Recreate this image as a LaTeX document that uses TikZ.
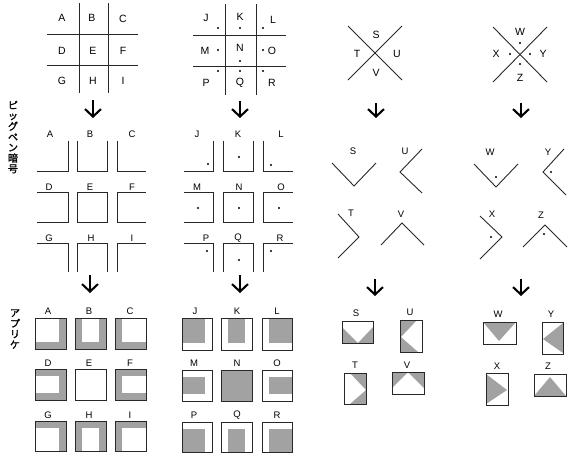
\documentclass[tikz,border=0pt]{standalone}
\usepackage{fontspec}
\setmainfont{Liberation Sans}
\newfontfamily\jpfont[FakeBold=1.8]{Noto Sans CJK JP}
\usetikzlibrary{arrows.meta}
\definecolor{fillg}{RGB}{162,162,162}
\definecolor{linec}{RGB}{40,40,40}
\tikzset{
  ln/.style={draw=linec, line width=0.9pt},
  bx/.style={draw=linec, line width=1pt},
  gf/.style={fill=fillg},
  big/.style={font=\fontsize{10.5}{12}\selectfont, inner sep=0pt},
  sm/.style={font=\fontsize{9.5}{11}\selectfont, inner sep=0pt},
  jp/.style={font=\jpfont\fontsize{10}{10.6}\selectfont, inner sep=0pt, align=center},
  dn/.style={line width=2.1pt, -{Straight Barb[length=7.5pt,width=16pt]}},
}
\newcommand{\pdot}[1]{\fill[black] #1 circle (1.2pt);}
\begin{document}
\begin{tikzpicture}[x=1pt,y=-1pt]
\useasboundingbox (0,0) rectangle (570,459);
% ---------- labels on the left
\node[jp] (pigpen) at (13,137) {ピ\\ッ\\グ\\ペ\\ン\\暗\\号};
\node[jp] (appli) at (15,329) {ア\\プ\\リ\\ケ};
% ---------- top row: grid A-I
\draw[ln] (79,3) -- (79,93);
\draw[ln] (108,3) -- (108,93);
\draw[ln] (47,34) -- (138,34);
\draw[ln] (47,65) -- (138,65);
\node[big] (gA) at (62,18) {A};
\node[big] (gB) at (92,18) {B};
\node[big] (gC) at (123,19) {C};
\node[big] (gD) at (62,51) {D};
\node[big] (gE) at (93,51) {E};
\node[big] (gF) at (123,51) {F};
\node[big] (gG) at (62,81) {G};
\node[big] (gH) at (93,81) {H};
\node[big] (gI) at (123,81) {I};
% ---------- top row: grid J-R
\draw[ln] (225,4) -- (225,95);
\draw[ln] (256,4) -- (256,95);
\draw[ln] (193,35) -- (286,35);
\draw[ln] (193,66) -- (286,66);
\node[big] (gJ) at (206,18) {J};
\node[big] (gK) at (240,17) {K};
\node[big] (gL) at (273,20) {L};
\node[big] (gM) at (205,51) {M};
\node[big] (gN) at (240,48) {N};
\node[big] (gO) at (272,51) {O};
\node[big] (gP) at (206,83) {P};
\node[big] (gQ) at (240,83) {Q};
\node[big] (gR) at (272,83) {R};
\pdot{(218,28)} \pdot{(240,28)} \pdot{(263,28)}
\pdot{(218,50)} \pdot{(240,61)} \pdot{(263,50)}
\pdot{(218,71)} \pdot{(240,71)} \pdot{(263,71)}
% ---------- top row: cross S-V
\draw[ln] (348,26) -- (402,80);
\draw[ln] (402,26) -- (348,80);
\node[big] (gS) at (376,35) {S};
\node[big] (gT) at (357,54) {T};
\node[big] (gU) at (397,54) {U};
\node[big] (gV) at (376,73) {V};
% ---------- top row: cross W-Z
\draw[ln] (493,27) -- (547,82);
\draw[ln] (547,27) -- (493,82);
\node[big] (gW) at (520,32) {W};
\node[big] (gX) at (496,54) {X};
\node[big] (gY) at (543,54) {Y};
\node[big] (gZ) at (520,78) {Z};
\pdot{(520,43)} \pdot{(510,54)} \pdot{(530,54)} \pdot{(520,64)}
% ---------- arrows row 1
\coordinate (a1s) at (93,100);  \coordinate (a1e) at (93,118);
\coordinate (a2s) at (240,101); \coordinate (a2e) at (240,118);
\coordinate (a3s) at (376,103); \coordinate (a3e) at (376,118);
\coordinate (a4s) at (521,103); \coordinate (a4e) at (521,118);
\draw[dn] (a1s) -- (a1e);
\draw[dn] (a2s) -- (a2e);
\draw[dn] (a3s) -- (a3e);
\draw[dn] (a4s) -- (a4e);
% ---------- middle row: A-I symbols
\draw[ln] (37,171) -- (68,171) -- (68,141);
\draw[ln] (77,141) -- (77,171) -- (107,171) -- (107,141);
\draw[ln] (117,141) -- (117,171) -- (146,171);
\draw[ln] (37,192) -- (68,192) -- (68,222) -- (37,222);
\draw[ln] (77,192) rectangle (107,222);
\draw[ln] (146,192) -- (117,192) -- (117,222) -- (146,222);
\draw[ln] (37,243) -- (68,243) -- (68,272);
\draw[ln] (77,272) -- (77,243) -- (107,243) -- (107,272);
\draw[ln] (117,272) -- (117,243) -- (146,243);
\node[sm] (pA) at (50,134) {A};
\node[sm] (pB) at (90,134) {B};
\node[sm] (pC) at (132,134) {C};
\node[sm] (pD) at (49,187) {D};
\node[sm] (pE) at (90,187) {E};
\node[sm] (pF) at (132,187) {F};
\node[sm] (pG) at (49,238) {G};
\node[sm] (pH) at (91,238) {H};
\node[sm] (pI) at (132,238) {I};
% ---------- middle row: J-R symbols
\draw[ln] (184,171) -- (213,171) -- (213,141);
\draw[ln] (223,141) -- (223,171) -- (253,171) -- (253,141);
\draw[ln] (263,141) -- (263,171) -- (293,171);
\draw[ln] (184,192) -- (213,192) -- (213,222) -- (184,222);
\draw[ln] (223,192) rectangle (253,222);
\draw[ln] (293,192) -- (263,192) -- (263,222) -- (293,222);
\draw[ln] (184,243) -- (213,243) -- (213,272);
\draw[ln] (223,272) -- (223,243) -- (253,243) -- (253,272);
\draw[ln] (263,272) -- (263,243) -- (293,243);
\pdot{(208,164)} \pdot{(239,157)} \pdot{(271,165)}
\pdot{(198,208)} \pdot{(239,208)} \pdot{(279,208)}
\pdot{(207,251)} \pdot{(239,260)} \pdot{(271,251)}
\node[sm] (pJ) at (197,134) {J};
\node[sm] (pK) at (238,134) {K};
\node[sm] (pL) at (281,134) {L};
\node[sm] (pM) at (197,187) {M};
\node[sm] (pN) at (239,187) {N};
\node[sm] (pO) at (281,187) {O};
\node[sm] (pP) at (206,238) {P};
\node[sm] (pQ) at (238,238) {Q};
\node[sm] (pR) at (280,238) {R};
% ---------- middle row: S-V symbols
\draw[ln] (332,163) -- (354,186) -- (376,163);
\draw[ln] (422,149) -- (400,172) -- (422,193);
\draw[ln] (338,214) -- (359,237) -- (338,258);
\draw[ln] (381,245) -- (402,223) -- (424,245);
\node[sm] (pS) at (353,151) {S};
\node[sm] (pU) at (405,151) {U};
\node[sm] (pT) at (351,213) {T};
\node[sm] (pV) at (401,214) {V};
% ---------- middle row: W-Z symbols
\draw[ln] (474,164) -- (496,187) -- (518,164);
\draw[ln] (564,149) -- (543,172) -- (566,195);
\draw[ln] (480,216) -- (502,237) -- (480,259);
\draw[ln] (523,247) -- (545,225) -- (567,247);
\pdot{(496,177)} \pdot{(551,172)} \pdot{(491,237)} \pdot{(544,234)}
\node[sm] (pW) at (490,152) {W};
\node[sm] (pY) at (548,152) {Y};
\node[sm] (pX) at (492,214) {X};
\node[sm] (pZ) at (541,215) {Z};
% ---------- arrows row 2
\coordinate (b1s) at (90,275);  \coordinate (b1e) at (90,293);
\coordinate (b2s) at (240,275); \coordinate (b2e) at (240,293);
\coordinate (b3s) at (375,279); \coordinate (b3e) at (375,296);
\coordinate (b4s) at (521,279); \coordinate (b4e) at (521,296);
\draw[dn] (b1s) -- (b1e);
\draw[dn] (b2s) -- (b2e);
\draw[dn] (b3s) -- (b3e);
\draw[dn] (b4s) -- (b4e);
% ---------- bottom row: applique A-I
% row 1
\fill[gf] (35,318) rectangle (66,349);
\fill[white] (35,318) rectangle (59,342);
\draw[bx] (35,318) rectangle (66,349);
\fill[gf] (75,318) rectangle (106,349);
\fill[white] (82,318) rectangle (99,342);
\draw[bx] (75,318) rectangle (106,349);
\fill[gf] (115,318) rectangle (146,349);
\fill[white] (122,318) rectangle (146,342);
\draw[bx] (115,318) rectangle (146,349);
% row 2
\fill[gf] (35,369) rectangle (66,400);
\fill[white] (35,376) rectangle (59,393);
\draw[bx] (35,369) rectangle (66,400);
\draw[bx] (75,369) rectangle (106,400);
\fill[gf] (115,369) rectangle (146,400);
\fill[white] (122,376) rectangle (146,393);
\draw[bx] (115,369) rectangle (146,400);
% row 3
\fill[gf] (35,421) rectangle (66,451);
\fill[white] (35,428) rectangle (59,451);
\draw[bx] (35,421) rectangle (66,451);
\fill[gf] (75,421) rectangle (106,451);
\fill[white] (82,428) rectangle (99,451);
\draw[bx] (75,421) rectangle (106,451);
\fill[gf] (115,421) rectangle (146,451);
\fill[white] (122,428) rectangle (146,451);
\draw[bx] (115,421) rectangle (146,451);
\node[sm] (qA) at (48,311) {A};
\node[sm] (qB) at (89,311) {B};
\node[sm] (qC) at (130,311) {C};
\node[sm] (qD) at (48,363) {D};
\node[sm] (qE) at (89,363) {E};
\node[sm] (qF) at (130,363) {F};
\node[sm] (qG) at (48,415) {G};
\node[sm] (qH) at (89,415) {H};
\node[sm] (qI) at (130,415) {I};
% ---------- bottom row: applique J-R
\fill[gf] (182,318) rectangle (205,343);
\draw[bx] (182,318) rectangle (212,350);
\fill[gf] (228,318) rectangle (245,343);
\draw[bx] (221,318) rectangle (252,350);
\fill[gf] (269,318) rectangle (292,343);
\draw[bx] (262,318) rectangle (292,350);
\fill[gf] (182,377) rectangle (205,394);
\draw[bx] (182,370) rectangle (212,401);
\fill[gf] (221,370) rectangle (252,401);
\draw[bx] (221,370) rectangle (252,401);
\fill[gf] (269,377) rectangle (292,394);
\draw[bx] (262,370) rectangle (292,401);
\fill[gf] (182,429) rectangle (205,452);
\draw[bx] (182,422) rectangle (212,452);
\fill[gf] (228,429) rectangle (245,452);
\draw[bx] (221,422) rectangle (252,452);
\fill[gf] (269,429) rectangle (292,452);
\draw[bx] (262,422) rectangle (292,452);
\node[sm] (qJ) at (195,311) {J};
\node[sm] (qK) at (237,311) {K};
\node[sm] (qL) at (277,311) {L};
\node[sm] (qM) at (194,363) {M};
\node[sm] (qN) at (237,363) {N};
\node[sm] (qO) at (277,363) {O};
\node[sm] (qP) at (194,415) {P};
\node[sm] (qQ) at (237,415) {Q};
\node[sm] (qR) at (277,415) {R};
% ---------- bottom row: applique S-V
\fill[gf] (342,327) -- (358,343) -- (342,343) -- cycle;
\fill[gf] (373,327) -- (358,343) -- (373,343) -- cycle;
\draw[bx] (342,321) rectangle (373,343);
\fill[gf] (401,320) -- (417,320) -- (401,337) -- cycle;
\fill[gf] (401,337) -- (418,352) -- (401,352) -- cycle;
\draw[bx] (400,320) rectangle (422,352);
\fill[gf] (350,373) -- (366,373) -- (366,390) -- cycle;
\fill[gf] (366,390) -- (350,404) -- (366,404) -- cycle;
\draw[bx] (344,373) rectangle (366,404);
\fill[gf] (392,372) -- (408,372) -- (392,388) -- cycle;
\fill[gf] (408,372) -- (424,372) -- (424,388) -- cycle;
\draw[bx] (392,372) rectangle (424,394);
\node[sm] (qS) at (356,313) {S};
\node[sm] (qU) at (410,312) {U};
\node[sm] (qT) at (355,365) {T};
\node[sm] (qV) at (407,365) {V};
% ---------- bottom row: applique W-Z
\fill[gf] (483,322) -- (516,322) -- (499,341) -- cycle;
\draw[bx] (483,322) rectangle (516,344);
\fill[gf] (563,323) -- (543,339) -- (563,353) -- cycle;
\draw[bx] (542,322) rectangle (563,354);
\fill[gf] (486,374) -- (507,390) -- (486,404) -- cycle;
\draw[bx] (486,373) rectangle (508,405);
\fill[gf] (534,396) -- (550,377) -- (566,396) -- cycle;
\draw[bx] (534,374) rectangle (566,396);
\node[sm] (qW) at (498,314) {W};
\node[sm] (qY) at (551,314) {Y};
\node[sm] (qX) at (497,366) {X};
\node[sm] (qZ) at (548,366) {Z};
\end{tikzpicture}
\end{document}
